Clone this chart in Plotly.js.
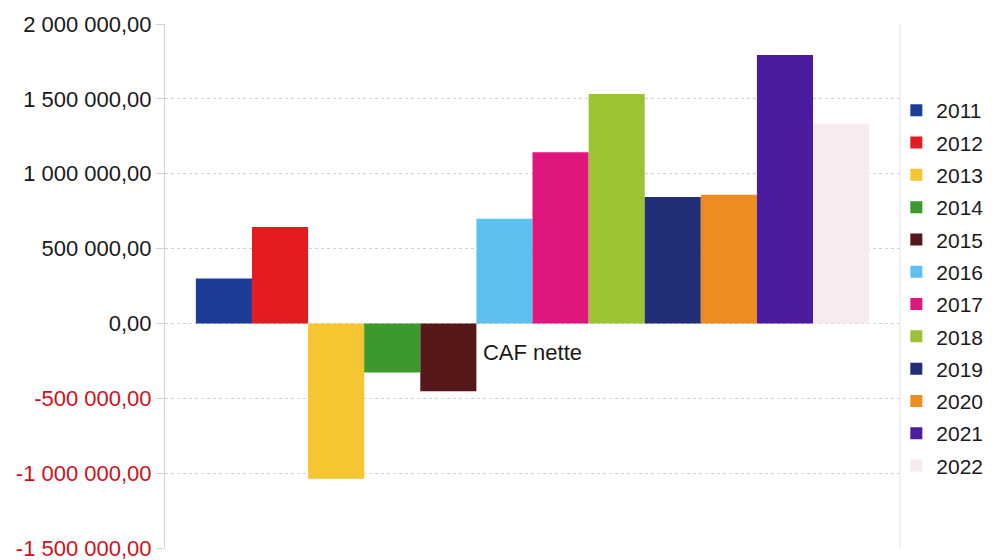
<!DOCTYPE html>
<html><head><meta charset="utf-8">
<script src="https://cdn.plot.ly/plotly-3.0.1.min.js"></script>
<style>html,body{margin:0;padding:0;background:#fff}#chart{width:997px;height:560px}</style>
</head><body><div id="chart"></div>
<script>
const category = "CAF nette";
const years = ["2011","2012","2013","2014","2015","2016","2017","2018","2019","2020","2021","2022"];
const values = [300000, 644000, -1038000, -327000, -453000, 700000, 1144000, 1533000, 844000, 860000, 1793000, 1333000];
const colors = ["#1d3c98","#e21c1f","#f6c632","#3b9a2b","#561719","#5cc1ef","#df167b","#9cc334","#222e77","#ee8b21","#4b1d9e","#f9e9f1"];
const tickVals = [-1500000,-1000000,-500000,0,500000,1000000,1500000,2000000];
const tickLabels = ["-1 500 000,00","-1 000 000,00","-500 000,00","0,00","500 000,00","1 000 000,00","1 500 000,00","2 000 000,00"];

const traces = years.map((y,i)=>({
  type:'bar', name:y, x:[category], y:[values[i]], legendgroup:'g'+i,
  marker:{color:colors[i], line:{width:0}}
}));
const tickText = tickLabels.map((t,i)=> tickVals[i] < 0 ? '<span style="color:#d0101a">'+t+'</span>' : t);

const layout = {
  width:997, height:560,
  margin:{l:165, r:97, t:24, b:12, autoexpand:false},
  paper_bgcolor:'#fff', plot_bgcolor:'#fff',
  font:{family:'Liberation Sans, Arial, sans-serif', size:22, color:'#1a1a1a'},
  barmode:'group', bargap:0.084, bargroupgap:0,
  showlegend:true,
  legend:{x:0.995, xanchor:'left', y:0.496, yanchor:'middle', font:{size:21, color:'#1a1a1a'}, itemwidth:30,
          traceorder:'grouped', tracegroupgap:2, bgcolor:'rgba(0,0,0,0)'},
  xaxis:{anchor:'free', position:(0-(-1500000))/(2000000-(-1500000)), showgrid:false, showline:false, ticks:'', zeroline:false,
         tickfont:{size:22, color:'#1a1a1a'}, ticklabelstandoff:14, fixedrange:true},
  yaxis:{range:[-1500000,2000000], tickvals:tickVals, ticktext:tickText, showgrid:true, gridcolor:'#cdd0dd', griddash:'dot',
         zeroline:false, ticks:'outside', ticklen:8, tickcolor:'#cdd0dd', showline:true, linecolor:'#cdd0dd',
         tickfont:{size:22, color:'#1a1a1a'}, ticklabeloverflow:'allow'}
};
layout.shapes = [{type:'line', xref:'paper', yref:'paper', x0:1, x1:1, y0:0, y1:1, line:{color:'#dde0ea', width:1}}];
Plotly.newPlot('chart', traces, layout, {displayModeBar:false, staticPlot:true});
</script></body></html>
